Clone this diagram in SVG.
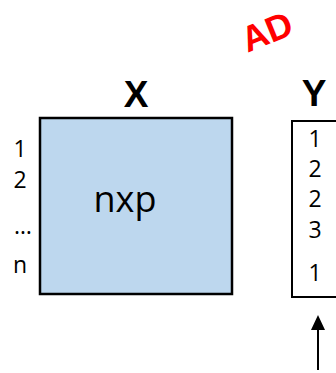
<svg xmlns="http://www.w3.org/2000/svg" width="336" height="373" viewBox="0 0 336 373">
<style>
.lbl{font-family:"Open Sans","Liberation Sans",sans-serif;font-size:23px;fill:#000;text-anchor:middle}
.title{font-family:"Liberation Sans",Arial,sans-serif;font-size:37px;font-weight:bold;fill:#000;text-anchor:middle}
</style>
<g id="stamp">
<text transform="translate(267,32) rotate(-22)" y="12" font-family="Liberation Sans, Arial, sans-serif" font-size="36" font-weight="bold" fill="#FF0000" text-anchor="middle">AD</text>
</g>
<g id="X">
<text class="title" x="136" y="107">X</text>
<rect x="40" y="118" width="192" height="176" fill="#BDD7EE" stroke="#000" stroke-width="2.5"/>
<text x="125" y="212" font-family="Open Sans, Liberation Sans, sans-serif" font-size="36" text-anchor="middle" fill="#000">nxp</text>
<text class="lbl" x="20" y="157">1</text>
<text class="lbl" x="20" y="188">2</text>
<text class="lbl" x="23" y="234">…</text>
<text class="lbl" x="20" y="273">n</text>
</g>
<g id="Y">
<text class="title" x="314" y="106">Y</text>
<rect x="292" y="121" width="60" height="176" fill="#fff" stroke="#000" stroke-width="2"/>
<text class="lbl" x="315" y="147">1</text>
<text class="lbl" x="315" y="177">2</text>
<text class="lbl" x="315" y="207">2</text>
<text class="lbl" x="315" y="238">3</text>
<text class="lbl" x="315" y="281">1</text>
</g>
<g id="connectors">
<line x1="318" y1="370" x2="318" y2="326" stroke="#000" stroke-width="2"/>
<polygon points="318,315 311,330 325,330" fill="#000"/>
</g>
</svg>
